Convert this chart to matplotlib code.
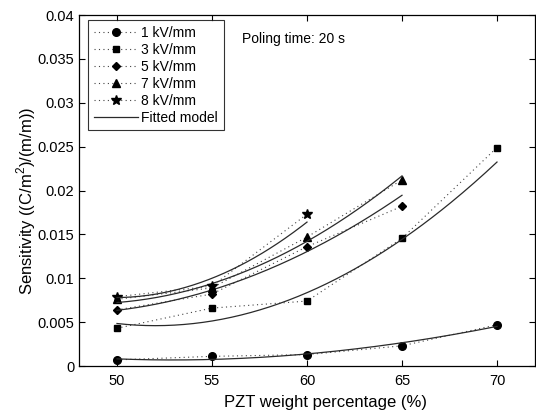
import numpy as np
import matplotlib
matplotlib.use("Agg")
import matplotlib.pyplot as plt

plt.rcParams['font.family'] = ['Liberation Sans', 'DejaVu Sans']
plt.rcParams['mathtext.fontset'] = 'custom'
plt.rcParams['mathtext.rm'] = 'Liberation Sans'

# Measured data
x_1kv = [50, 55, 60, 65, 70]
y_1kv = [0.0007, 0.0011, 0.0013, 0.0023, 0.0047]
x_3kv = [50, 55, 60, 65, 70]
y_3kv = [0.0043, 0.0066, 0.0074, 0.01455, 0.0249]
x_5kv = [50, 55, 60, 65]
y_5kv = [0.0064, 0.0082, 0.0136, 0.0182]
x_7kv = [50, 55, 60, 65]
y_7kv = [0.0076, 0.0089, 0.0147, 0.0212]
x_8kv = [50, 55, 60]
y_8kv = [0.0079, 0.0091, 0.0173]

# Fitted model values read at the data x positions
fit_1kv = [0.0008, 0.0008, 0.0013, 0.0027, 0.0045]
fit_3kv = [0.0048, 0.0053, 0.0081, 0.0146, 0.0232]
fit_5kv = [0.0064, 0.0085, 0.0132, 0.0194]
fit_7kv = [0.0073, 0.0092, 0.0144, 0.0216]
fit_8kv = [0.0078, 0.0100, 0.0164]

labels = ['1 kV/mm', '3 kV/mm', '5 kV/mm', '7 kV/mm', '8 kV/mm']
markers = ['o', 's', 'D', '^', '*']
msizes = [5.5, 5, 4.5, 6, 7.5]

series = [(x_1kv, y_1kv, fit_1kv), (x_3kv, y_3kv, fit_3kv),
          (x_5kv, y_5kv, fit_5kv), (x_7kv, y_7kv, fit_7kv),
          (x_8kv, y_8kv, fit_8kv)]

fig = plt.figure(figsize=(5.36, 4.12), dpi=100)
ax = fig.add_axes([79/536, 46/412, (535-79)/536, (366-15)/412])

handles = []
for (xs, ys, fs), lab, mk, ms in zip(series, labels, markers, msizes):
    h, = ax.plot(xs, ys, linestyle=(0, (1, 3)), color='#444444', lw=0.8,
                 marker=mk, markersize=ms, markerfacecolor='black',
                 markeredgecolor='black', label=lab)
    handles.append(h)
    deg = 3 if len(xs) >= 5 else 2
    c = np.polyfit(xs, fs, deg)
    xx = np.linspace(xs[0], xs[-1], 200)
    fl, = ax.plot(xx, np.polyval(c, xx), '-', color='#2a2a2a', lw=0.9)
fl.set_label('Fitted model')
handles.append(fl)

ax.set_xlim(48, 72)
ax.set_ylim(0, 0.04)
ax.set_xticks([50, 55, 60, 65, 70])
ax.set_yticks([0, 0.005, 0.01, 0.015, 0.02, 0.025, 0.03, 0.035, 0.04])
ax.set_yticklabels(['0', '0.005', '0.01', '0.015', '0.02', '0.025', '0.03', '0.035', '0.04'])
ax.tick_params(direction='in', top=True, right=True, labelsize=10.5, length=4, width=0.8)
ax.tick_params(axis='x', pad=6)
for s in ax.spines.values():
    s.set_linewidth(0.9)

ax.set_xlabel('PZT weight percentage (%)', fontsize=12)
ax.xaxis.set_label_coords((325-79)/456, (366-407)/351)
ax.xaxis.label.set_va('baseline')
ax.set_ylabel('Sensitivity ((C/m$^2$)/(m/m))', fontsize=12)
ax.yaxis.set_label_coords((26-79)/456, (366-201)/351)
ax.yaxis.label.set_va('center')

leg = ax.legend(handles=handles, loc='upper left',
                bbox_to_anchor=((88-79)/456, 1-(20-15)/351),
                fontsize=10, frameon=True, fancybox=False, edgecolor='black',
                handlelength=3.2, handletextpad=0.25, borderpad=0.4,
                labelspacing=0.22, borderaxespad=0)
leg.get_frame().set_linewidth(0.8)

fig.text(242/536, 1-43/412, 'Poling time: 20 s', fontsize=10, va='baseline', ha='left')

fig.savefig('out.png', dpi=100)
